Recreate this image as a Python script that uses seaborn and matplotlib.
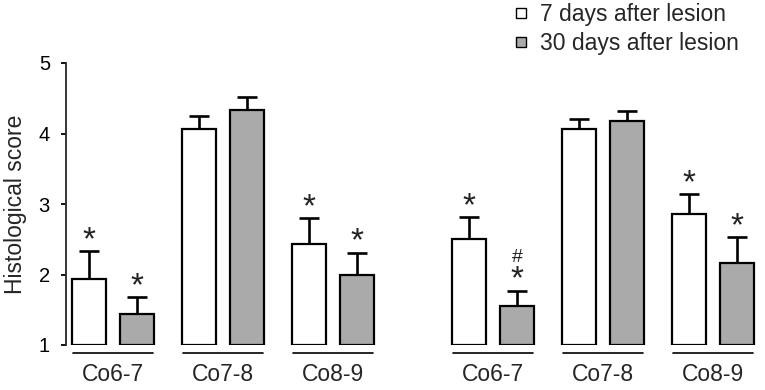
import numpy as np
import pandas as pd
import matplotlib
matplotlib.use("Agg")
import matplotlib.pyplot as plt
import seaborn as sns
from matplotlib.lines import Line2D

# ---------------- data ----------------
segments = ["Co6-7", "Co7-8", "Co8-9", "Co6-7", "Co7-8", "Co8-9"]
series = ["7 days after lesion", "30 days after lesion"]
day7_mean = [1.93, 4.06, 2.43, 2.50, 4.06, 2.86]
day7_err = [0.40, 0.19, 0.37, 0.31, 0.14, 0.28]
day30_mean = [1.44, 4.33, 2.00, 1.56, 4.18, 2.17]
day30_err = [0.24, 0.19, 0.31, 0.21, 0.14, 0.36]
day7_marks = ["*", "", "*", "*", "", "*"]
day30_marks = ["*", "", "*", "*", "", "*"]
day30_hash = ["", "", "", "#", "", ""]
y_ticks = [1, 2, 3, 4, 5]
baseline = 1

# ---------------- layout ----------------
group_pos = [0, 1, 2, 3.455, 4.455, 5.455]
colors = {series[0]: "white", series[1]: "#aaaaaa"}

sns.set_style("ticks")
plt.rcParams["font.family"] = ["Liberation Sans", "DejaVu Sans"]

rows = []
for i, p in enumerate(group_pos):
    rows.append({"pos": p, "series": series[0], "height": day7_mean[i] - baseline})
    rows.append({"pos": p, "series": series[1], "height": day30_mean[i] - baseline})
df = pd.DataFrame(rows)

fig = plt.figure(figsize=(7.65, 3.9), dpi=100)
ax = fig.add_axes([66 / 765, 45 / 390, 694 / 765, 282 / 390])

sns.barplot(data=df, x="pos", y="height", hue="series", hue_order=series,
            native_scale=True, width=0.873, gap=0.29, palette=colors,
            edgecolor="black", linewidth=1.6, bottom=baseline,
            errorbar=None, legend=False, ax=ax, zorder=2)

patches = list(ax.patches)
n = len(group_pos)
sets = [(patches[:n], day7_err, day7_marks, None),
        (patches[n:2 * n], day30_err, day30_marks, day30_hash)]
for pats, errs, marks, extra in sets:
    pats = sorted(pats, key=lambda p: p.get_x())
    xc = np.array([p.get_x() + p.get_width() / 2 for p in pats])
    tops = np.array([p.get_y() + p.get_height() for p in pats])
    ax.errorbar(xc, tops, yerr=[np.zeros(n), errs], fmt="none", ecolor="black",
                elinewidth=1.9, capsize=7, capthick=1.9, zorder=1)
    for j in range(n):
        ytop = tops[j] + errs[j]
        if marks[j]:
            ax.annotate(marks[j], (xc[j], ytop), xytext=(0, 1.5),
                        textcoords="offset points", ha="center", va="baseline",
                        fontsize=24, color="#222222", annotation_clip=False)
        if extra is not None and extra[j]:
            ax.annotate(extra[j], (xc[j], ytop), xytext=(0, 21),
                        textcoords="offset points", ha="center", va="baseline",
                        fontsize=14, color="#222222", annotation_clip=False)

ax.set_ylim(1, 5)
ax.set_xlim(-0.427, 5.882)
ax.set_yticks(y_ticks)
ax.set_yticklabels([str(t) for t in y_ticks], fontsize=14.5)
ax.set_xticks(group_pos)
ax.set_xticklabels(segments, fontsize=16.5)
ax.tick_params(axis="x", length=0, pad=13)
ax.tick_params(axis="y", length=3.6, width=1.3, pad=8, colors="black")
ax.set_xlabel("")
ax.set_ylabel("Histological score", fontsize=16.5)
ax.yaxis.set_label_coords(-0.056, 0.5)
for s in ["top", "right", "bottom"]:
    ax.spines[s].set_visible(False)
ax.spines["left"].set_linewidth(1.3)
ax.spines["left"].set_bounds(1, 5)

tr = ax.get_xaxis_transform()
for p in group_pos:
    ax.plot([p - 0.36, p + 0.36], [-0.028, -0.028], color="black", lw=1.2,
            transform=tr, clip_on=False)

handles = [Line2D([], [], marker="s", ls="", markersize=6.5,
                  markerfacecolor=colors[s], markeredgecolor="black",
                  markeredgewidth=1) for s in series]
fig.legend(handles=handles, labels=series, loc="upper left",
           bbox_to_anchor=(511.5 / 765, 1 - 3 / 390), frameon=False,
           fontsize=16.5, handlelength=0.8, handletextpad=0.46,
           labelspacing=0.25, borderpad=0, borderaxespad=0)

fig.savefig("out.png", dpi=100)
